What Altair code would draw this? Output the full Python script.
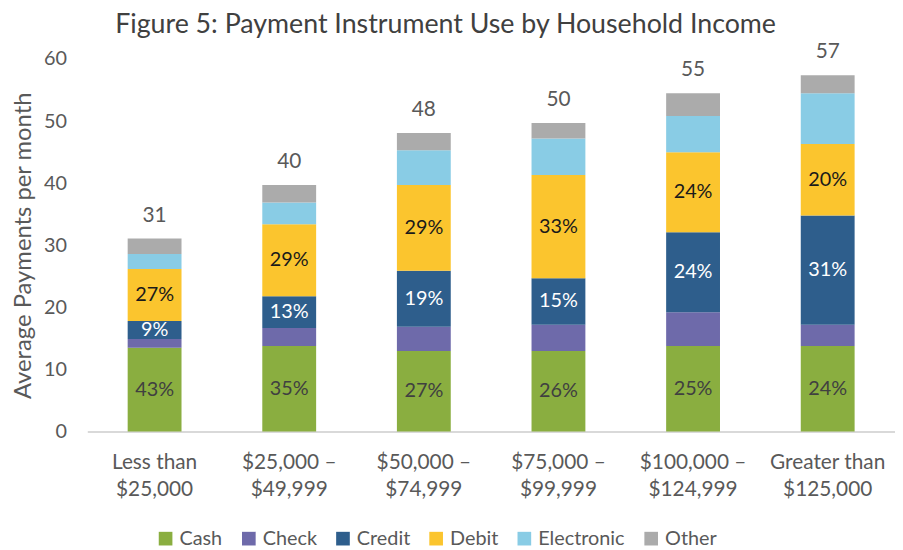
import altair as alt
import pandas as pd

# ---- data ----
incomes = ["Less than|$25,000", "$25,000 –|$49,999", "$50,000 –|$74,999",
           "$75,000 –|$99,999", "$100,000 –|$124,999", "Greater than|$125,000"]
series = ["Cash", "Check", "Credit", "Debit", "Electronic", "Other"]

cash = [13.5, 13.8, 13.0, 13.0, 13.8, 13.8]
check = [1.4, 2.9, 3.9, 4.2, 5.4, 3.4]
credit = [2.9, 5.1, 9.0, 7.5, 12.9, 17.6]
debit = [8.4, 11.6, 13.8, 16.6, 12.9, 11.5]
electronic = [2.4, 3.5, 5.6, 5.9, 5.8, 8.2]
other = [2.5, 2.8, 2.8, 2.5, 3.7, 2.9]

cash_pct = ["43%", "35%", "27%", "26%", "25%", "24%"]
credit_pct = ["9%", "13%", "19%", "15%", "24%", "31%"]
debit_pct = ["27%", "29%", "29%", "33%", "24%", "20%"]
totals = ["31", "40", "48", "50", "55", "57"]

colors = ["#8AAE40", "#6E6AAA", "#2E5E8C", "#FBC52E", "#89CCE5", "#ABABAB"]
label_colors = {"Cash": "#404040", "Credit": "#FFFFFF", "Debit": "#1A1A1A"}

FONT = "Lato"
GRAY = "#595959"

values = [cash, check, credit, debit, electronic, other]
pct = {"Cash": cash_pct, "Credit": credit_pct, "Debit": debit_pct}

rows = []
for si, s in enumerate(series):
    for ii, inc in enumerate(incomes):
        rows.append({
            "income": inc, "series": s, "order": si, "value": values[si][ii],
            "pct": pct[s][ii] if s in pct else "",
            "lcolor": label_colors.get(s, "#000000"),
        })
df = pd.DataFrame(rows)

tot_df = pd.DataFrame({
    "income": incomes,
    "total": [sum(v[i] for v in values) for i in range(len(incomes))],
    "label": totals,
})

x_enc = alt.X("income:N", sort=incomes, title=None,
              scale=alt.Scale(paddingInner=0.6, paddingOuter=0.3),
              axis=alt.Axis(labelExpr="split(datum.label, '|')", labelAngle=0,
                            labelFontSize=21, labelColor=GRAY, labelFont=FONT,
                            labelLineHeight=27, labelPadding=20, ticks=False,
                            domainColor="#D9D9D9", domainWidth=2))

y_scale = alt.Scale(domain=[0, 60])

bars = alt.Chart(df).mark_bar().encode(
    x=x_enc,
    y=alt.Y("value:Q", stack="zero", scale=y_scale,
            title="Average  Payments per month",
            axis=alt.Axis(values=[0, 10, 20, 30, 40, 50, 60], grid=False,
                          domain=False, ticks=False, labelFontSize=20,
                          labelColor=GRAY, labelFont=FONT, labelPadding=21,
                          titleFontSize=24, titleColor=GRAY, titleFont=FONT,
                          titleFontWeight="normal", titlePadding=8)),
    color=alt.Color("series:N", sort=series,
                    scale=alt.Scale(domain=series, range=colors),
                    legend=alt.Legend(title=None, orient="none", direction="horizontal",
                                      legendX=69, legendY=474, symbolType="square",
                                      symbolSize=190, symbolStrokeWidth=0,
                                      labelFontSize=20, labelColor=GRAY, labelFont=FONT,
                                      labelOffset=4, columnPadding=16)),
    order=alt.Order("order:Q"),
)

labels = alt.Chart(df).transform_stack(
    stack="value", as_=["y0", "y1"], groupby=["income"],
    sort=[alt.SortField("order", order="ascending")]
).transform_filter(
    "datum.pct != ''"
).transform_calculate(
    mid="(datum.y0 + datum.y1) / 2"
).mark_text(fontSize=20, font=FONT, baseline="middle").encode(
    x=alt.X("income:N", sort=incomes),
    y=alt.Y("mid:Q", scale=y_scale),
    text="pct:N",
    color=alt.Color("lcolor:N", scale=None),
)

tot = alt.Chart(tot_df).mark_text(fontSize=21, font=FONT, color=GRAY,
                                  baseline="alphabetic", dy=-17).encode(
    x=alt.X("income:N", sort=incomes),
    y=alt.Y("total:Q", scale=y_scale),
    text="label:N",
)

chart = alt.layer(bars, labels, tot).properties(
    width=815, height=376,
    padding={"left": 80, "top": 49, "right": 0, "bottom": 116},
    autosize=alt.AutoSizeParams(type="none"),
    title=alt.TitleParams("Figure 5: Payment Instrument Use by Household Income",
                          fontSize=27, font=FONT, color="#404040",
                          fontWeight="normal", anchor="middle", dx=-46, dy=9,
                          offset=12),
).configure_view(stroke=None)

chart.save("out.html", embed_options={"renderer": "svg", "actions": False})
